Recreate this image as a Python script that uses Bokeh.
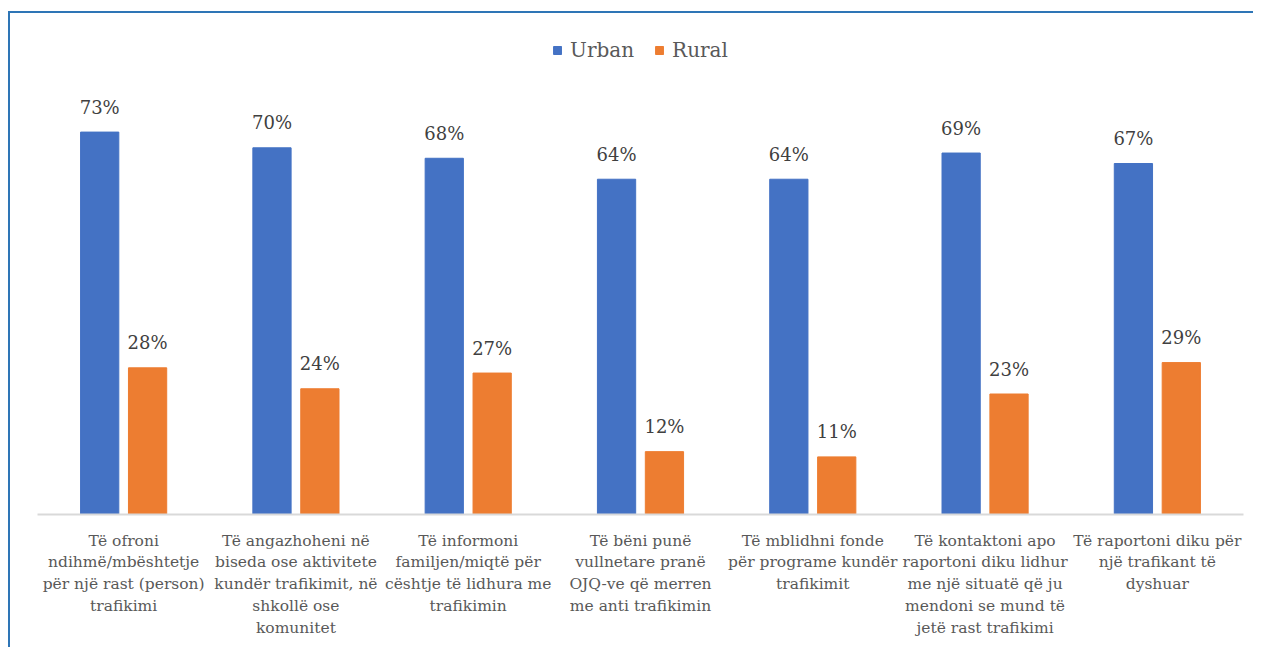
from bokeh.plotting import figure
from bokeh.models import ColumnDataSource, FactorRange, InlineStyleSheet
from bokeh.transform import dodge
from bokeh.core.properties import value
from bokeh.embed import file_html
from bokeh.resources import INLINE

categories = [
    "Të ofroni\nndihmë/mbështetje\npër një rast (person)\ntrafikimi",
    "Të angazhoheni në\nbiseda ose aktivitete\nkundër trafikimit, në\nshkollë ose\nkomunitet",
    "Të informoni\nfamiljen/miqtë për\ncështje të lidhura me\ntrafikimin",
    "Të bëni punë\nvullnetare pranë\nOJQ-ve që merren\nme anti trafikimin",
    "Të mblidhni fonde\npër programe kundër\ntrafikimit",
    "Të kontaktoni apo\nraportoni diku lidhur\nme një situatë që ju\nmendoni se mund të\njetë rast trafikimi",
    "Të raportoni diku për\nnjë trafikant të\ndyshuar",
]
urban = [73, 70, 68, 64, 64, 69, 67]
rural = [28, 24, 27, 12, 11, 23, 29]
series_names = ["Urban", "Rural"]

FONT = "DejaVu Serif"
BLUE = "#4472C4"
ORANGE = "#ED7D31"
EDGE = "#2E75B6"

src = ColumnDataSource(dict(
    cat=categories,
    urban=urban,
    rural=rural,
    ulab=[f"{v}%" for v in urban],
    rlab=[f"{v}%" for v in rural],
))

p = figure(
    x_range=FactorRange(factors=categories),
    y_range=(0, 94.3),
    width=1253, height=647,
    output_backend="svg", toolbar_location=None,
    y_axis_location=None,
    min_border_left=37, min_border_right=10,
    min_border_top=20, min_border_bottom=133,
)
p.outline_line_color = None
p.border_fill_color = "#ffffff"
p.background_fill_color = "#ffffff"
p.xgrid.visible = False
p.ygrid.visible = False
p.stylesheets = [InlineStyleSheet(css=(
    ":host { position: relative; overflow: hidden; }\n"
    ":host::before { content: ''; position: absolute; left: 8px; top: 11px; "
    f"width: 1300px; height: 2px; background: {EDGE}; pointer-events: none; z-index: 100; }}\n"
    ":host::after { content: ''; position: absolute; left: 8px; top: 11px; "
    f"width: 2px; height: 700px; background: {EDGE}; pointer-events: none; z-index: 100; }}\n"
))]

off = 0.139
bw = 0.222
p.vbar(x=dodge("cat", -off, range=p.x_range), top="urban", width=bw, source=src,
       fill_color=BLUE, line_color=BLUE, legend_label=series_names[0])
p.vbar(x=dodge("cat", off, range=p.x_range), top="rural", width=bw, source=src,
       fill_color=ORANGE, line_color=ORANGE, legend_label=series_names[1])

for xo, col, lab in [(-off, "urban", "ulab"), (off, "rural", "rlab")]:
    p.text(x=dodge("cat", xo, range=p.x_range), y=col, text=lab, source=src,
           text_align="center", text_baseline="alphabetic", y_offset=-25,
           text_font=value(FONT), text_font_size="18px", text_color="#404040")

ax = p.xaxis[0]
ax.axis_line_color = "#D9D9D9"
ax.axis_line_width = 2
ax.major_tick_line_color = None
ax.minor_tick_line_color = None
ax.major_label_text_font = FONT
ax.major_label_text_font_size = "15.5px"
ax.major_label_text_color = "#595959"
ax.major_label_standoff = 11
ax.major_label_text_line_height = 1.22

lg = p.legend[0]
lg.location = "top_center"
lg.orientation = "horizontal"
lg.border_line_color = None
lg.background_fill_alpha = 0
lg.glyph_width = 10
lg.glyph_height = 10
lg.label_standoff = 8
lg.spacing = 20
lg.padding = 4
lg.margin = 18
lg.label_text_font = FONT
lg.label_text_font_size = "20px"
lg.label_text_color = "#595959"

open("out.html", "w").write(file_html(p, INLINE))
